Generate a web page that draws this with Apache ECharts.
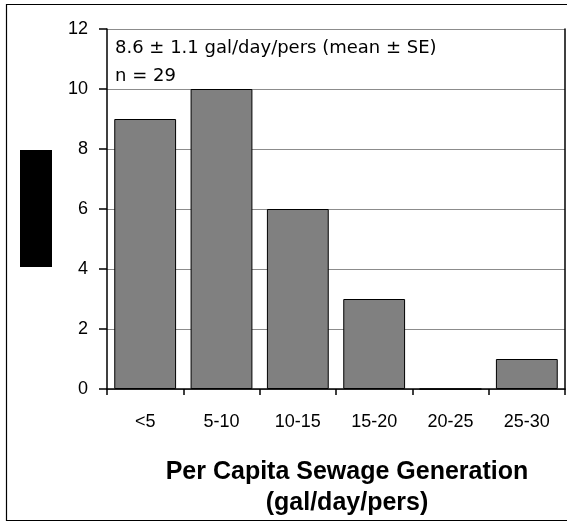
<!DOCTYPE html>
<html>
<head>
<meta charset="utf-8">
<script src="https://cdn.jsdelivr.net/npm/echarts@6/dist/echarts.min.js"></script>
<style>
html,body{margin:0;padding:0;background:#fff;}
#chart{width:567px;height:522px;}
</style>
</head>
<body>
<div id="chart"></div>
<script>
const categories = ['<5', '5-10', '10-15', '15-20', '20-25', '25-30'];
const counts = [9, 10, 6, 3, 0, 1];
const yTicks = {min: 0, max: 12, interval: 2};
const annotationLines = ['8.6 \u00B1 1.1 gal/day/pers (mean \u00B1 SE)', 'n = 29'];
const xTitle = ['Per Capita Sewage Generation', '(gal/day/pers)'];

const chart = echarts.init(document.getElementById('chart'), null, {renderer: 'canvas'});
const tickFont = {fontFamily: 'Liberation Sans', fontSize: 18, color: '#000'};

chart.setOption({
  animation: false,
  backgroundColor: '#fff',
  grid: {left: 107, right: 2, top: 29, bottom: 133, containLabel: false},
  title: {
    text: xTitle.join('\n'),
    left: 342,
    top: 452,
    textAlign: 'center',
    textStyle: {fontFamily: 'Liberation Sans', fontWeight: 'bold', fontSize: 25, lineHeight: 31, color: '#000'}
  },
  xAxis: {
    type: 'category',
    data: categories,
    axisLine: {lineStyle: {color: '#000', width: 1.5}},
    axisTick: {show: true, length: 6, lineStyle: {color: '#000', width: 1.5}, interval: 0},
    axisLabel: Object.assign({margin: 24, interval: 0}, tickFont),
    splitLine: {show: false}
  },
  yAxis: [{
    type: 'value',
    min: yTicks.min, max: yTicks.max, interval: yTicks.interval,
    axisLine: {show: true, lineStyle: {color: '#000', width: 1.5}},
    axisTick: {show: true, length: 8, lineStyle: {color: '#000', width: 1.5}},
    axisLabel: Object.assign({margin: 19}, tickFont),
    splitLine: {show: true, lineStyle: {color: '#8c8c8c', width: 1}}
  }, {
    type: 'value', position: 'right',
    min: yTicks.min, max: yTicks.max, interval: yTicks.interval,
    axisLine: {show: true, lineStyle: {color: '#000', width: 1.5}},
    axisTick: {show: false}, axisLabel: {show: false}, splitLine: {show: false}
  }],
  series: [{
    type: 'bar',
    data: counts,
    yAxisIndex: 0,
    barCategoryGap: '19%',
    itemStyle: {color: '#808080', borderColor: '#000', borderWidth: 1}
  }],
  graphic: [
    {type: 'rect', shape: {x: 6.5, y: 4.5, width: 562, height: 516}, style: {fill: null, stroke: '#000', lineWidth: 1.2}, silent: true, z: 100},
    {type: 'rect', shape: {x: 20, y: 150, width: 32, height: 117}, style: {fill: '#000'}, silent: true, z: 100},
    {type: 'text', left: 115, top: 34, style: {text: annotationLines.join('\n'), fontFamily: 'DejaVu Sans', fontSize: 18, lineHeight: 28, fill: '#000'}, z: 100}
  ]
});
</script>
</body>
</html>
